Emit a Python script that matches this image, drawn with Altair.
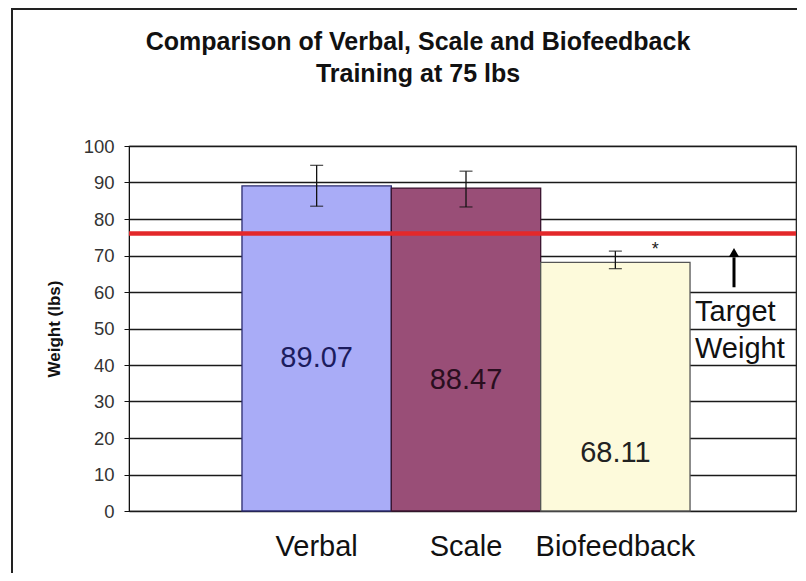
import altair as alt
import pandas as pd

FONT = "Liberation Sans"

methods = ["Verbal", "Scale", "Biofeedback"]
means = [89.07, 88.47, 68.11]
err_low = [83.5, 83.3, 66.4]
err_high = [94.7, 93.1, 71.2]
label_y = [42.0, 35.8, 15.8]
bar_colors = ["#A9ACF7", "#994E77", "#FDFADB"]
bar_strokes = ["#2A2A6E", "#3B1530", "#555555"]
label_colors = ["#1C1C5E", "#2A0E20", "#222222"]
target_weight = [76.0]
asterisk_y = [71.5]
arrow_from = [61.3]
arrow_to = [69.5]
arrow_head = [70.8]
note_lines = ["Target", "Weight"]
note_y = [54.4, 44.3]
title_lines = ["Comparison of Verbal, Scale and Biofeedback", "Training at 75 lbs"]
y_ticks = list(range(0, 101, 10))

W, H = 667, 365

df = pd.DataFrame({
    "method": methods,
    "mean": means,
    "lo": err_low,
    "hi": err_high,
    "ly": label_y,
    "fill": bar_colors,
    "stroke": bar_strokes,
    "lc": label_colors,
})

x_scale = alt.Scale(domain=methods, paddingInner=0, paddingOuter=0.733, align=0.516)
y_scale = alt.Scale(domain=[0, 100], nice=False, zero=True)


def xq():
    return alt.X("method:N", sort=methods, scale=x_scale, axis=None)


def yq(field):
    return alt.Y(field, scale=y_scale, axis=None)


x_main = alt.X(
    "method:N",
    sort=methods,
    scale=x_scale,
    axis=alt.Axis(
        title=None, labelAngle=0, labelFontSize=29, labelFont=FONT,
        labelColor="#111111", ticks=False, domain=False, grid=False,
        labelPadding=21,
    ),
)
y_main = alt.Y(
    "mean:Q",
    scale=y_scale,
    axis=alt.Axis(
        values=y_ticks, title="Weight (lbs)", titleFont=FONT, titleFontSize=17,
        titleFontWeight="bold", titleColor="#111111", titlePadding=20,
        labelFont=FONT, labelFontSize=18.5, labelColor="#333333", labelPadding=10,
        tickSize=5, tickColor="#111111", domainColor="#111111",
        grid=True, gridColor="#1A1A1A", gridWidth=1.3, gridOpacity=1,
    ),
)

base = alt.Chart(df)

bars = base.mark_bar(strokeWidth=1.3).encode(
    x=x_main,
    y=y_main,
    fill=alt.Fill("fill:N", scale=None),
    stroke=alt.Stroke("stroke:N", scale=None),
)

err_rule = base.mark_rule(color="#111111", strokeWidth=1.3).encode(
    x=xq(), y=yq("lo:Q"), y2="hi:Q",
)
cap_lo = base.mark_tick(color="#111111", thickness=1.3, size=13).encode(
    x=xq(), y=yq("lo:Q")
)
cap_hi = base.mark_tick(color="#111111", thickness=1.3, size=13).encode(
    x=xq(), y=yq("hi:Q")
)

value_labels = base.mark_text(fontSize=29, font=FONT, baseline="middle").encode(
    x=xq(),
    y=yq("ly:Q"),
    text=alt.Text("mean:Q", format=".2f"),
    color=alt.Color("lc:N", scale=None),
)

target_line = alt.Chart(pd.DataFrame({"t": target_weight})).mark_rule(
    color="#E3282A", strokeWidth=4.5
).encode(y=yq("t:Q"))

asterisk = alt.Chart(pd.DataFrame({"method": ["Biofeedback"], "a": asterisk_y})).mark_text(
    text="*", dx=40, fontSize=18, font=FONT, color="#222222", baseline="middle"
).encode(x=xq(), y=yq("a:Q"))

arrow_shaft = alt.Chart(pd.DataFrame({"a": arrow_from, "b": arrow_to})).mark_rule(
    color="#000000", strokeWidth=3
).encode(x=alt.value(605), y=yq("a:Q"), y2="b:Q")
arrow_tip = alt.Chart(pd.DataFrame({"a": arrow_head})).mark_point(
    shape="triangle-up", filled=True, size=110, color="#000000", opacity=1
).encode(x=alt.value(605), y=yq("a:Q"))

note = alt.Chart(pd.DataFrame({"txt": note_lines, "y": note_y})).mark_text(
    fontSize=29, font=FONT, color="#111111", align="left", baseline="middle"
).encode(x=alt.value(566), y=yq("y:Q"), text="txt:N")

title_df = pd.DataFrame({"txt": title_lines, "py": [-104, -72]})
title = alt.Chart(title_df).mark_text(
    fontSize=25, font=FONT, fontWeight="bold", color="#111111", baseline="middle"
).encode(x=alt.value(289), y=alt.Y("py:Q", scale=None, axis=None), text="txt:N")

one = pd.DataFrame({"k": [0]})
frame_top = alt.Chart(one).mark_rule(color="#222222", strokeWidth=2).encode(
    x=alt.value(-117), x2=alt.value(W + 1), y=alt.value(-137)
)
frame_left = alt.Chart(one).mark_rule(color="#222222", strokeWidth=2).encode(
    x=alt.value(-117), y=alt.value(-138), y2=alt.value(H + 62)
)

chart = alt.layer(
    bars, target_line, err_rule, cap_lo, cap_hi, value_labels, asterisk,
    arrow_shaft, arrow_tip, note, title, frame_top, frame_left,
).resolve_axis(
    x="independent", y="independent"
).properties(
    width=W,
    height=H,
    autosize=alt.AutoSizeParams(type="none"),
    padding={"left": 121, "top": 138, "right": 1, "bottom": 62},
    background="white",
).configure_view(stroke="#111111", strokeWidth=1.2)

chart.save("out.html", embed_options={"renderer": "svg", "actions": False})
